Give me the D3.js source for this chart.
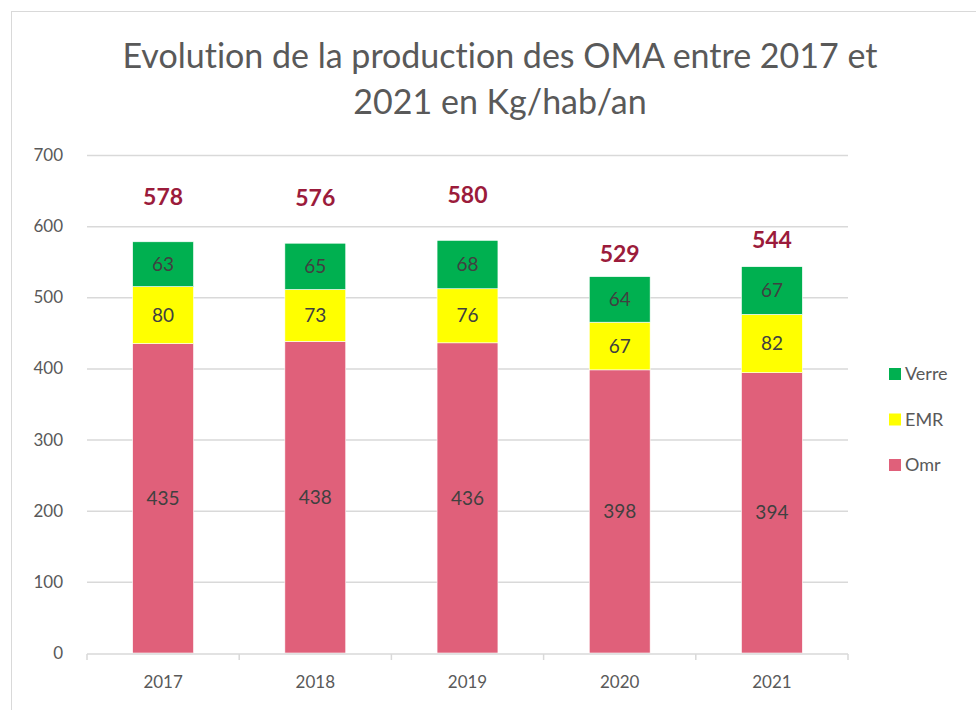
<!DOCTYPE html>
<meta charset="utf-8">
<script src="https://d3js.org/d3.v7.min.js"></script>
<style>
  body { margin: 0; background: #fff; }
  text { font-family: Lato, "Open Sans", sans-serif; font-variant-ligatures: none; }
</style>
<svg id="chart" width="976" height="710"></svg>
<script>
// data
var years = ["2017", "2018", "2019", "2020", "2021"];
var omr   = [435, 438, 436, 398, 394];
var emr   = [80, 73, 76, 67, 82];
var verre = [63, 65, 68, 64, 67];
var totals = [578, 576, 580, 529, 544];
var yTicks = [0, 100, 200, 300, 400, 500, 600, 700];
var seriesNames = ["Omr", "EMR", "Verre"];
var colors = { Omr: "#E0607A", EMR: "#FFFF00", Verre: "#00B050" };
// lift (px) of the total labels above each bar, as placed in the original
var totalLift = [45, 45, 45, 23, 26];

var svg = d3.select("#chart");

// outer frame
svg.append("rect")
  .attr("x", 11.5).attr("y", 11.5)
  .attr("width", 980).attr("height", 720)
  .attr("fill", "none").attr("stroke", "#d9d9d9");

// title
var title = svg.append("text")
  .attr("text-anchor", "middle")
  .attr("fill", "#595959")
  .style("font-size", "34px");
title.append("tspan").attr("x", 500).attr("y", 68).text("Evolution de la production des OMA entre 2017 et");
title.append("tspan").attr("x", 500).attr("y", 114).text("2021 en Kg/hab/an");

var x = d3.scaleBand().domain(years).range([87, 848]).paddingInner(0.6).paddingOuter(0.3);
var y = d3.scaleLinear().domain([0, 700]).range([653, 155]);

// gridlines
svg.append("g")
  .selectAll("line")
  .data(yTicks.slice(1))
  .enter().append("line")
    .attr("x1", 87).attr("x2", 848)
    .attr("y1", function(d){ return y(d) + 0.5; })
    .attr("y2", function(d){ return y(d) + 0.5; })
    .attr("stroke", "#d9d9d9").attr("stroke-width", 1.5);

// y axis labels
var yAxis = svg.append("g")
  .attr("transform", "translate(87,0)")
  .call(d3.axisLeft(y).tickValues(yTicks).tickSize(0).tickPadding(24));
yAxis.select(".domain").remove();
yAxis.selectAll("text")
  .attr("fill", "#595959")
  .style("font-size", "17px")
  .style("font-family", "Lato, sans-serif");

// stack
var table = years.map(function(yr, i){
  return { year: yr, Omr: omr[i], EMR: emr[i], Verre: verre[i] };
});
var stacked = d3.stack().keys(seriesNames)(table);

var layers = svg.append("g")
  .selectAll("g")
  .data(stacked)
  .enter().append("g")
    .attr("fill", function(d){ return colors[d.key]; });

layers.selectAll("rect")
  .data(function(d){ return d; })
  .enter().append("rect")
    .attr("x", function(d){ return x(d.data.year); })
    .attr("y", function(d){ return y(d[1]); })
    .attr("width", x.bandwidth())
    .attr("height", function(d){ return y(d[0]) - y(d[1]); })
    .attr("stroke", "#fff").attr("stroke-width", 0.6);

layers.selectAll("text")
  .data(function(d){ return d; })
  .enter().append("text")
    .attr("x", function(d){ return x(d.data.year) + x.bandwidth() / 2; })
    .attr("y", function(d){ return y((d[0] + d[1]) / 2); })
    .attr("dy", "0.35em")
    .attr("text-anchor", "middle")
    .attr("fill", "#404040")
    .style("font-size", "19px")
    .text(function(d){ return d[1] - d[0]; });

// totals
svg.append("g")
  .selectAll("text")
  .data(totals)
  .enter().append("text")
    .attr("x", function(d, i){ return x(years[i]) + x.bandwidth() / 2; })
    .attr("y", function(d, i){ return y(d) - totalLift[i]; })
    .attr("dy", "0.35em")
    .attr("text-anchor", "middle")
    .attr("fill", "#9B1B3B")
    .style("font-size", "23px")
    .style("font-weight", "bold")
    .text(function(d){ return d; });

// x axis
var xAxis = svg.append("g")
  .attr("transform", "translate(0,654)")
  .call(d3.axisBottom(x).tickSize(0).tickPadding(22));
xAxis.select(".domain").attr("stroke", "#d9d9d9").attr("stroke-width", 1.5)
  .attr("d", "M87,0H848");
xAxis.selectAll("text")
  .attr("fill", "#595959")
  .style("font-size", "17px")
  .style("font-family", "Lato, sans-serif");
// category boundary ticks
xAxis.selectAll(".sep")
  .data(d3.range(years.length + 1))
  .enter().append("line")
    .attr("class", "sep")
    .attr("x1", function(i){ return 87 + i * x.step(); })
    .attr("x2", function(i){ return 87 + i * x.step(); })
    .attr("y1", 0).attr("y2", 6)
    .attr("stroke", "#d9d9d9").attr("stroke-width", 1.5);

// legend
var legend = svg.append("g")
  .selectAll("g")
  .data(seriesNames.slice().reverse())
  .enter().append("g")
    .attr("transform", function(d, i){ return "translate(889," + (368 + i * 45.5) + ")"; });
legend.append("rect")
  .attr("width", 12).attr("height", 12)
  .attr("fill", function(d){ return colors[d]; });
legend.append("text")
  .attr("x", 16).attr("y", 6).attr("dy", "0.35em")
  .attr("fill", "#595959")
  .style("font-size", "18px")
  .text(function(d){ return d; });
</script>
